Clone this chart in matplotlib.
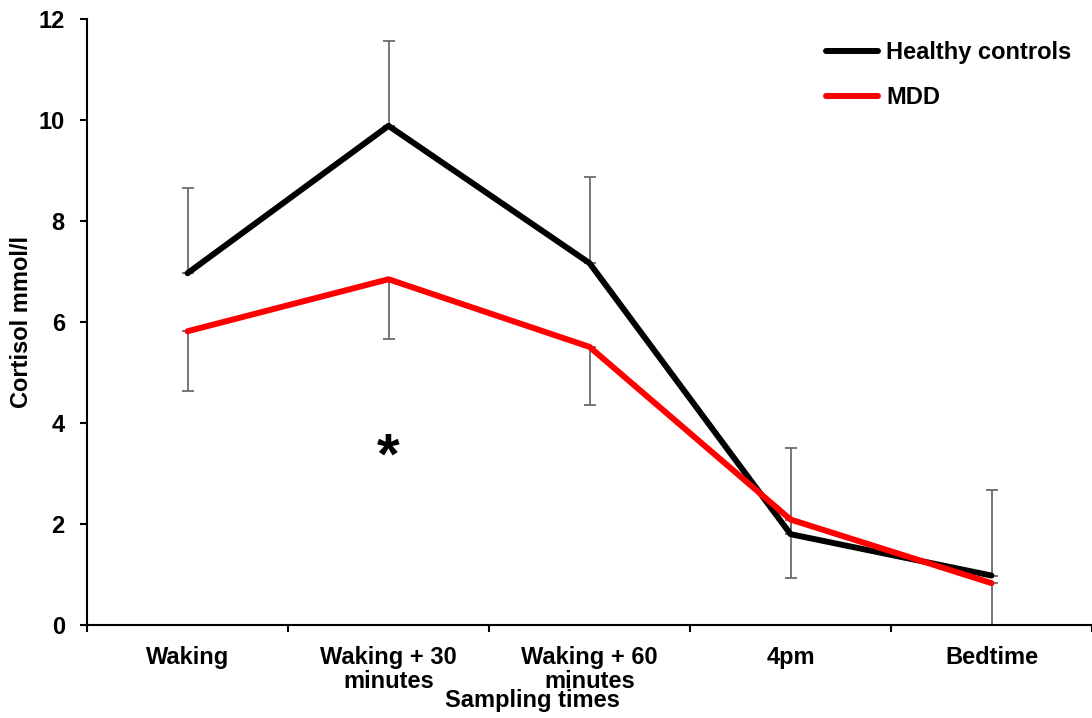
import numpy as np
import matplotlib
matplotlib.use("Agg")
import matplotlib.pyplot as plt

plt.rcParams['font.family'] = ['Liberation Sans', 'DejaVu Sans']
plt.rcParams['font.weight'] = 'bold'

# sampling points and mean cortisol per group
times = ['Waking', 'Waking + 30\nminutes', 'Waking + 60\nminutes', '4pm', 'Bedtime']
healthy = [6.97, 9.89, 7.17, 1.80, 0.98]
mdd = [5.82, 6.85, 5.51, 2.09, 0.83]
# error bars: upward for controls, downward for MDD
healthy_err = [1.68, 1.69, 1.70, 1.70, 1.70]
mdd_err = [1.18, 1.18, 1.16, 1.16, 1.17]

x = np.arange(len(times))
fs = 17

fig = plt.figure(figsize=(10.92, 7.18), dpi=100)
ax = fig.add_axes([0.0797, 0.1295, 0.9203, 0.8436])

errcol = '#6b6b6b'
ax.errorbar(x, healthy, yerr=[np.zeros(5), healthy_err], fmt='none',
            ecolor=errcol, elinewidth=1.3, capsize=4.5, capthick=1.3, zorder=2)
ax.errorbar(x, mdd, yerr=[mdd_err, np.zeros(5)], fmt='none',
            ecolor=errcol, elinewidth=1.3, capsize=4.5, capthick=1.3, zorder=2)

ax.plot(x, healthy, color='black', lw=4.3, label='Healthy controls', zorder=3,
        solid_capstyle='round')
ax.plot(x, mdd, color='#ff0000', lw=4.3, label='MDD', zorder=4,
        solid_capstyle='round')

# significance marker
ax.text(1, 3.3, '*', ha='center', va='center', fontsize=42, fontweight='bold')

ax.set_xlim(-0.5, 4.5)
ax.set_ylim(0, 12)
ax.set_yticks([0, 2, 4, 6, 8, 10, 12])
ax.set_xticks(x)
ax.set_xticklabels(times, linespacing=1.05)
ax.set_xticks(np.arange(-0.5, 5.0, 1.0), minor=True)

for s in ['top', 'right']:
    ax.spines[s].set_visible(False)
for s in ['left', 'bottom']:
    ax.spines[s].set_linewidth(1.5)

ax.tick_params(axis='y', direction='out', length=5, width=1.5, pad=11, labelsize=fs)
ax.tick_params(axis='x', which='major', length=0, pad=15, labelsize=fs)
ax.tick_params(axis='x', which='minor', direction='out', length=5, width=1.5)

ax.set_ylabel('Cortisol mmol/l', fontsize=fs, fontweight='bold', labelpad=4)
fig.text(532 / 1092, 1 - 701 / 718, 'Sampling times', ha='center', va='center',
         fontsize=fs, fontweight='bold')

leg = ax.legend(loc='upper left', bbox_to_anchor=(826 / 1092, 1 - 41 / 718),
                bbox_transform=fig.transFigure, frameon=False, fontsize=fs,
                handlelength=2.2, handletextpad=0.35, labelspacing=0.95,
                borderpad=0, borderaxespad=0)

fig.savefig('out.png', dpi=100)
